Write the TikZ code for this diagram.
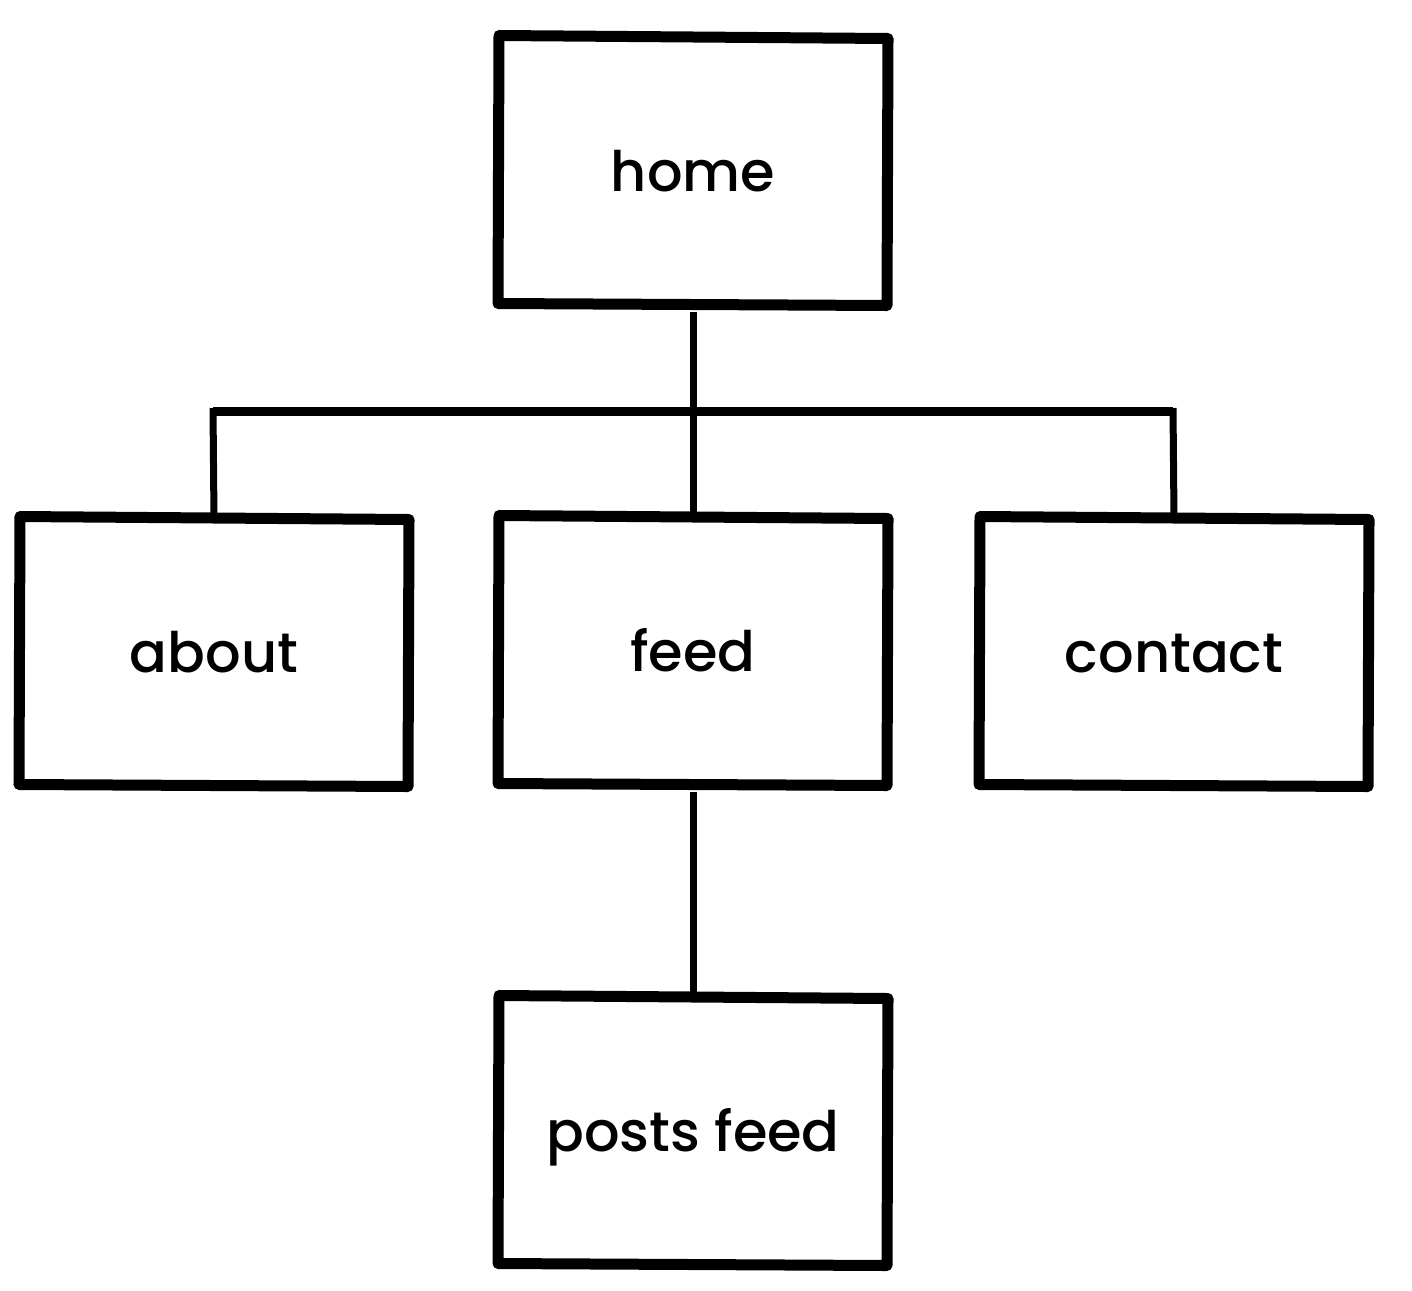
\documentclass[tikz,border=0pt]{standalone}
\usepackage{fontspec}
\setmainfont{Poppins}[UprightFont=* Medium]
\begin{document}
\begin{tikzpicture}[x=1bp,y=-1bp]
\tikzset{
  page/.style={minimum width=386bp, minimum height=265bp, inner sep=0pt, outer sep=0pt,
    font=\fontsize{56}{60}\selectfont, text height=42bp, text depth=0pt},
  boxline/.style={line width=11bp, line join=round, line cap=round},
  thinlink/.style={line width=7bp},
  bar/.style={line width=9bp}
}
\newcommand\handbox[1]{%
  \draw[boxline] ([shift={(-1,-2)}]#1.north west) -- ([shift={(2,1)}]#1.north east)
    -- ([shift={(1,3)}]#1.south east) -- ([shift={(-2,1)}]#1.south west) -- cycle;}
\useasboundingbox (0,0) rectangle (1412,1290);
\node[page] (home) at (693,170) {home};
\node[page] (about) at (214,651) {about};
\node[page] (feed) at (693,650) {feed};
\node[page] (contact) at (1174,651) {contact};
\node[page] (posts) at (693,1130) {posts feed};
\coordinate (hub) at (693,411);
\coordinate (hubL) at (213,411);
\coordinate (hubR) at (1173,411);
\draw[thinlink] ([yshift=-9bp]home.south) -- (hub) -- (feed.north);
\draw[bar] (hubL) -- (hubR);
\draw[thinlink] ([yshift=3bp]hubL) -- (about.north);
\draw[thinlink] ([yshift=3bp]hubR) -- (contact.north);
\draw[thinlink] ([yshift=-9bp]feed.south) -- (posts.north);
\handbox{home}
\handbox{about}
\handbox{feed}
\handbox{contact}
\handbox{posts}
\end{tikzpicture}
\end{document}
